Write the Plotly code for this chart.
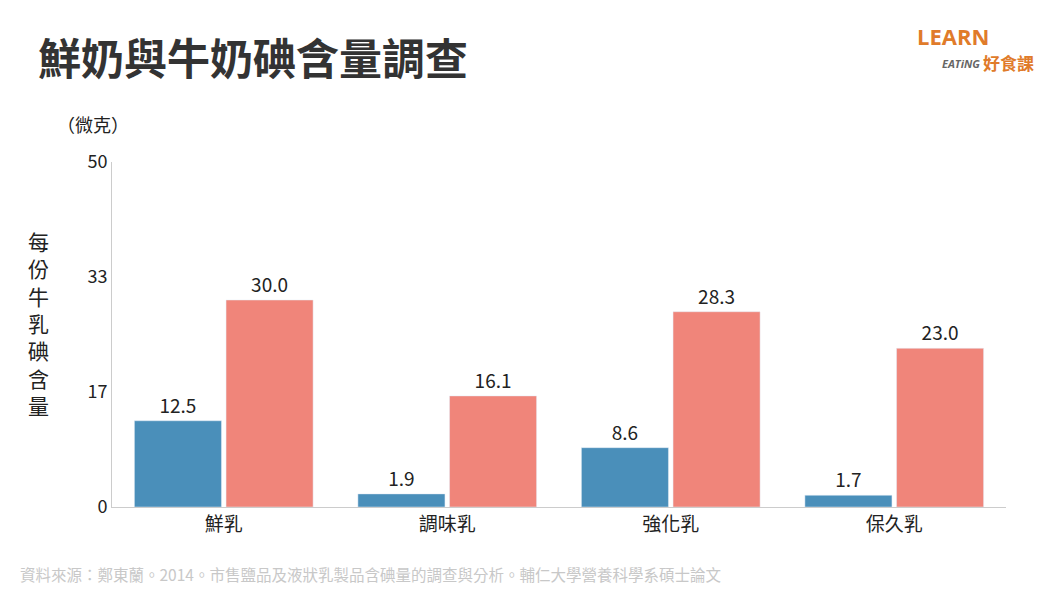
import plotly.graph_objects as go

categories = ["鮮乳", "調味乳", "強化乳", "保久乳"]
blue_vals = [12.5, 1.9, 8.6, 1.7]
red_vals = [30.0, 16.1, 28.3, 23.0]
tick_vals = [0, 50/3, 100/3, 50]
tick_text = ["0", "17", "33", "50"]

F = "Noto Sans CJK TC"
fig = go.Figure()
fig.add_bar(x=categories, y=blue_vals, marker_color="#4a8fba", text=[f"{v:.1f}" for v in blue_vals],
            textposition="outside", textfont=dict(size=19, color="#222", family=F), cliponaxis=False)
fig.add_bar(x=categories, y=red_vals, marker_color="#f0857a", text=[f"{v:.1f}" for v in red_vals],
            textposition="outside", textfont=dict(size=19, color="#222", family=F), cliponaxis=False)
L, R, T, B = 104, 50, 154, 91
fig.update_layout(
    width=1048, height=590, paper_bgcolor="white", plot_bgcolor="white",
    showlegend=False, barmode="group", bargap=0.18, bargroupgap=0.05,
    margin=dict(l=L, r=R, t=T, b=B),
    font=dict(family=F, color="#222"),
    xaxis=dict(showline=True, linecolor="#ccc", linewidth=1, tickfont=dict(size=19, color="#222"), ticks=""),
    yaxis=dict(range=[0, 50], tickvals=tick_vals, ticktext=tick_text, showgrid=False, showline=True,
               linecolor="#ccc", tickfont=dict(size=18, color="#222"), ticks="", zeroline=False),
)
def pann(text, px, py, size, color, xanchor="left", **kw):
    px -= 8; py -= 8
    x = (px - L) / (1048 - L - R)
    y = (590 - B - py) / (590 - B - T)
    fig.add_annotation(text=text, x=x, y=y, xref="paper", yref="paper", showarrow=False,
                       font=dict(size=size, color=color, family=kw.pop("family", F)),
                       xanchor=xanchor, yanchor="middle", **kw)
pann("<b>鮮奶與牛奶碘含量調查</b>", 36, 56, 43, "#333")
pann("<b>LEARN</b>", 915, 36, 22, "#e07b2a", family="Open Sans")
pann("<b><i>EATiNG</i></b>", 982, 63, 11, "#666", xanchor="right", family="Open Sans")
pann("<b>好食課</b>", 1036, 62, 17, "#e07b2a", xanchor="right")
pann("（微克）", 55, 124, 18, "#222")
pann("每<br>份<br>牛<br>乳<br>碘<br>含<br>量", 38, 323, 21, "#222", xanchor="center")
pann("資料來源：鄭東蘭。2014。市售鹽品及液狀乳製品含碘量的調查與分析。輔仁大學營養科學系碩士論文", 18, 574, 15.5, "#c8c8c8")
fig.write_html("out.html")
